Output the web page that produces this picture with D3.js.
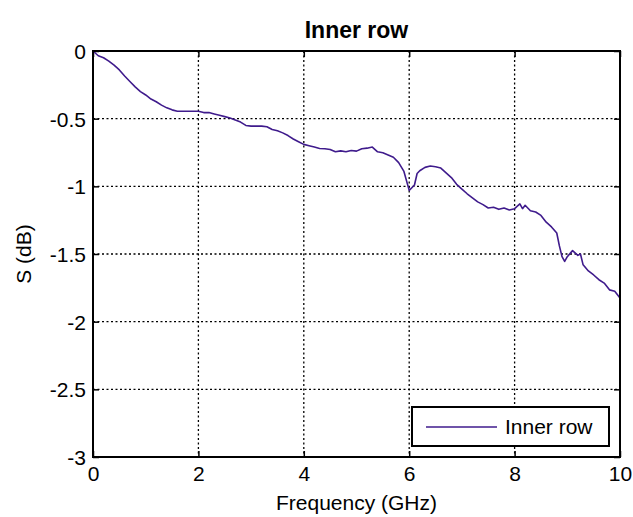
<!DOCTYPE html>
<html>
<head>
<meta charset="utf-8">
<script src="https://cdn.jsdelivr.net/npm/d3@7"></script>
<style>
  body { margin: 0; background: #fff; }
  svg { font-family: "Liberation Sans", Arial, sans-serif; }
</style>
</head>
<body>
<div id="chart"></div>
<script>
// values
const freq = [0.0, 0.1, 0.2, 0.3, 0.4, 0.5, 0.6, 0.7, 0.8, 0.9,
  1.0, 1.1, 1.2, 1.3, 1.4, 1.5, 1.6, 1.7, 1.8, 1.9,
  2.0, 2.1, 2.2, 2.3, 2.4, 2.5, 2.6, 2.7, 2.8, 2.9,
  3.0, 3.1, 3.2, 3.3, 3.4, 3.5, 3.6, 3.7, 3.8, 3.9,
  4.0, 4.1, 4.2, 4.3, 4.4, 4.5, 4.6, 4.7, 4.8, 4.9,
  5.0, 5.1, 5.2, 5.3, 5.4, 5.5, 5.6, 5.7, 5.8, 5.9,
  6.0, 6.05, 6.1, 6.15, 6.2, 6.3, 6.4, 6.5, 6.6, 6.7, 6.8, 6.9,
  7.0, 7.1, 7.2, 7.3, 7.4, 7.5, 7.6, 7.7, 7.8, 7.9,
  8.0, 8.1, 8.15, 8.2, 8.3, 8.4, 8.5, 8.6, 8.7, 8.8, 8.85, 8.9, 8.95,
  9.0, 9.1, 9.2, 9.25, 9.3, 9.4, 9.5, 9.6, 9.7, 9.8, 9.9, 10.0]
const sdb = [0.000, -0.035, -0.050, -0.075, -0.105, -0.140, -0.185, -0.225, -0.265, -0.300,
  -0.325, -0.355, -0.375, -0.400, -0.420, -0.435, -0.445, -0.445, -0.445, -0.445,
  -0.445, -0.455, -0.455, -0.465, -0.475, -0.485, -0.495, -0.510, -0.525, -0.550,
  -0.555, -0.555, -0.555, -0.560, -0.580, -0.590, -0.605, -0.625, -0.650, -0.670,
  -0.690, -0.700, -0.710, -0.720, -0.722, -0.728, -0.745, -0.738, -0.745, -0.735,
  -0.740, -0.722, -0.718, -0.710, -0.745, -0.752, -0.768, -0.785, -0.825, -0.890,
  -1.030, -1.010, -0.990, -0.905, -0.885, -0.860, -0.850, -0.855, -0.865, -0.900, -0.935, -0.985,
  -1.020, -1.055, -1.085, -1.115, -1.135, -1.160, -1.155, -1.170, -1.160, -1.175,
  -1.165, -1.130, -1.165, -1.140, -1.180, -1.190, -1.215, -1.265, -1.300, -1.345, -1.440, -1.520, -1.555,
  -1.520, -1.475, -1.510, -1.500, -1.580, -1.625, -1.655, -1.690, -1.715, -1.765, -1.775, -1.825]
const xTicks = [0, 2, 4, 6, 8, 10]
const yTicks = [0, -0.5, -1, -1.5, -2, -2.5, -3]
const seriesName = "Inner row"

const width = 633, height = 517
const margin = {top: 51, right: 13, bottom: 60, left: 93}
const lineColor = "#3f1b8c"

const svg = d3.select("#chart").append("svg")
  .attr("width", width)
  .attr("height", height)

const x = d3.scaleLinear().domain([0, 10]).range([margin.left, width - margin.right])
const y = d3.scaleLinear().domain([-3, 0]).range([height - margin.bottom, margin.top])

// dotted grid
svg.append("g")
  .selectAll("line")
  .data(xTicks.slice(1, -1))
  .join("line")
  .attr("x1", d => x(d)).attr("x2", d => x(d))
  .attr("y1", y(0)).attr("y2", y(-3))
  .attr("stroke", "#000").attr("stroke-width", 1.3)
  .attr("stroke-dasharray", "2,2.5")

svg.append("g")
  .selectAll("line")
  .data(yTicks.slice(1, -1))
  .join("line")
  .attr("y1", d => y(d)).attr("y2", d => y(d))
  .attr("x1", x(0)).attr("x2", x(10))
  .attr("stroke", "#000").attr("stroke-width", 1.3)
  .attr("stroke-dasharray", "2,2.5")

// axes with inward ticks, mirrored on top and right
const fmt = d => String(d)
const xAxis = d3.axisBottom(x).tickValues(xTicks).tickSizeInner(-6).tickSizeOuter(0).tickPadding(9).tickFormat(fmt)
const yAxis = d3.axisLeft(y).tickValues(yTicks).tickSizeInner(-6).tickSizeOuter(0).tickPadding(7).tickFormat(fmt)
const xTop = d3.axisTop(x).tickValues(xTicks).tickSizeInner(-6).tickSizeOuter(0).tickFormat("")
const yRight = d3.axisRight(y).tickValues(yTicks).tickSizeInner(-6).tickSizeOuter(0).tickFormat("")

const gx = svg.append("g").attr("transform", `translate(0, ${y(-3)})`).call(xAxis)
const gy = svg.append("g").attr("transform", `translate(${x(0)}, 0)`).call(yAxis)
const gt = svg.append("g").attr("transform", `translate(0, ${y(0)})`).call(xTop)
const gr = svg.append("g").attr("transform", `translate(${x(10)}, 0)`).call(yRight)

;[gx, gy, gt, gr].forEach(g => {
  g.select(".domain").remove()
  g.selectAll("line").attr("stroke", "#000").attr("stroke-width", 1.5)
  g.selectAll("text").attr("fill", "#000").style("font-size", "21px")
})
gy.selectAll("text").attr("dy", "0.35em")
gx.selectAll("text").attr("dy", "0.72em")

// the series
const line = d3.line()
  .x((d, i) => x(freq[i]))
  .y(d => y(d))

svg.append("path")
  .datum(sdb)
  .attr("fill", "none")
  .attr("stroke", lineColor)
  .attr("stroke-width", 1.6)
  .attr("stroke-linejoin", "round")
  .attr("d", line)

// axes box
svg.append("rect")
  .attr("x", x(0)).attr("y", y(0))
  .attr("width", x(10) - x(0)).attr("height", y(-3) - y(0))
  .attr("fill", "none").attr("stroke", "#000").attr("stroke-width", 2)

// title and labels
svg.append("text")
  .attr("x", (x(0) + x(10)) / 2).attr("y", 38)
  .attr("text-anchor", "middle")
  .style("font-size", "23px").style("font-weight", "bold")
  .text("Inner row")

svg.append("text")
  .attr("x", (x(0) + x(10)) / 2).attr("y", 510)
  .attr("text-anchor", "middle")
  .style("font-size", "21px")
  .text("Frequency (GHz)")

svg.append("text")
  .attr("transform", `translate(31, ${(y(0) + y(-3)) / 2}) rotate(-90)`)
  .attr("text-anchor", "middle")
  .style("font-size", "21px")
  .text("S (dB)")

// legend
const legend = svg.append("g")
legend.append("rect")
  .attr("x", 412).attr("y", 407).attr("width", 197).attr("height", 39)
  .attr("fill", "#fff").attr("stroke", "#000").attr("stroke-width", 2)
legend.append("line")
  .attr("x1", 426).attr("x2", 497).attr("y1", 427).attr("y2", 427)
  .attr("stroke", lineColor).attr("stroke-width", 1.5)
legend.append("text")
  .attr("x", 505).attr("y", 434)
  .style("font-size", "21px")
  .text(seriesName)
</script>
</body>
</html>
